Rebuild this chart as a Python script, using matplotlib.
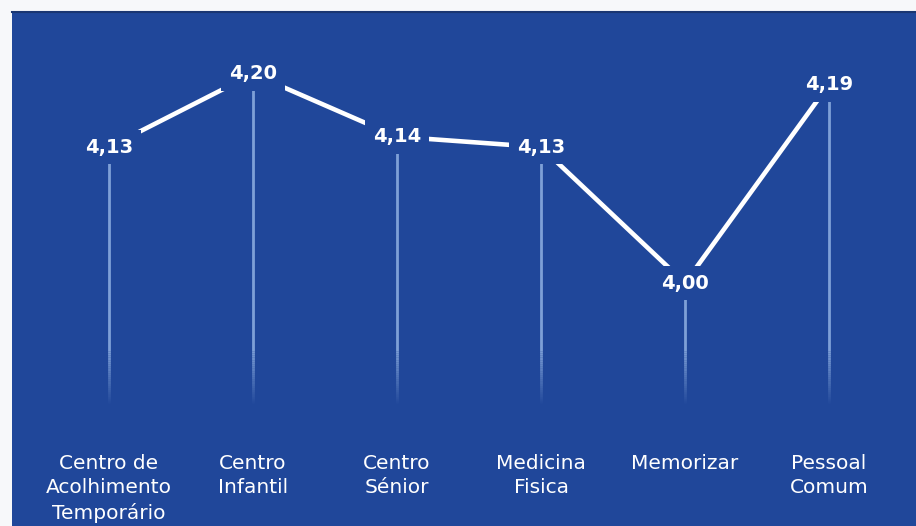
import numpy as np
import matplotlib.pyplot as plt

categories = ["Centro de\nAcolhimento\nTemporário", "Centro\nInfantil", "Centro\nSénior",
              "Medicina\nFisica", "Memorizar", "Pessoal\nComum"]
values = [4.13, 4.20, 4.14, 4.13, 4.00, 4.19]
value_labels = ["4,13", "4,20", "4,14", "4,13", "4,00", "4,19"]

bg = "#20479a"
stem_color = "#8fb0e2"

fig = plt.figure(figsize=(9.16, 5.26), dpi=100, facecolor="#f7f8fa")
ax = fig.add_axes([12 / 916, 0, 904 / 916, 514 / 526])
ax.set_facecolor(bg)
ax.set_xlim(-0.674, 5.604)
ax.set_ylim(3.7675, 4.2593)
for s in ax.spines.values():
    s.set_visible(False)
ax.spines["top"].set_visible(True)
ax.spines["top"].set_color("#1a3672")
ax.spines["top"].set_linewidth(1.5)
ax.set_xticks([])
ax.set_yticks([])

x = np.arange(len(values))

# thin stems, fading out near the bottom
fade = np.linspace(3.935, 3.885, 25)
for i, v in enumerate(values):
    ax.vlines(i, fade[0], v, color=stem_color, lw=2, alpha=0.85, zorder=1,
              capstyle="butt")
    for k in range(len(fade) - 1):
        ax.vlines(i, fade[k + 1], fade[k], color=stem_color, lw=2, capstyle="butt",
                  alpha=0.85 * (1 - (k + 1) / len(fade)), zorder=1)

ax.plot(x, values, color="white", lw=3.3, solid_capstyle="butt", zorder=2)

for i, (v, lab) in enumerate(zip(values, value_labels)):
    ax.text(i, v, lab, ha="center", va="center", color="white", fontsize=14,
            fontweight="bold", zorder=3,
            bbox=dict(boxstyle="square,pad=0.4", fc=bg, ec="none"))

for i, cat in enumerate(categories):
    ax.text(i, 0.14, cat, transform=ax.get_xaxis_transform(), ha="center", va="top",
            color="white", fontsize=14.5, linespacing=1.35, clip_on=False)

fig.savefig("out.png", dpi=100, facecolor=fig.get_facecolor())
